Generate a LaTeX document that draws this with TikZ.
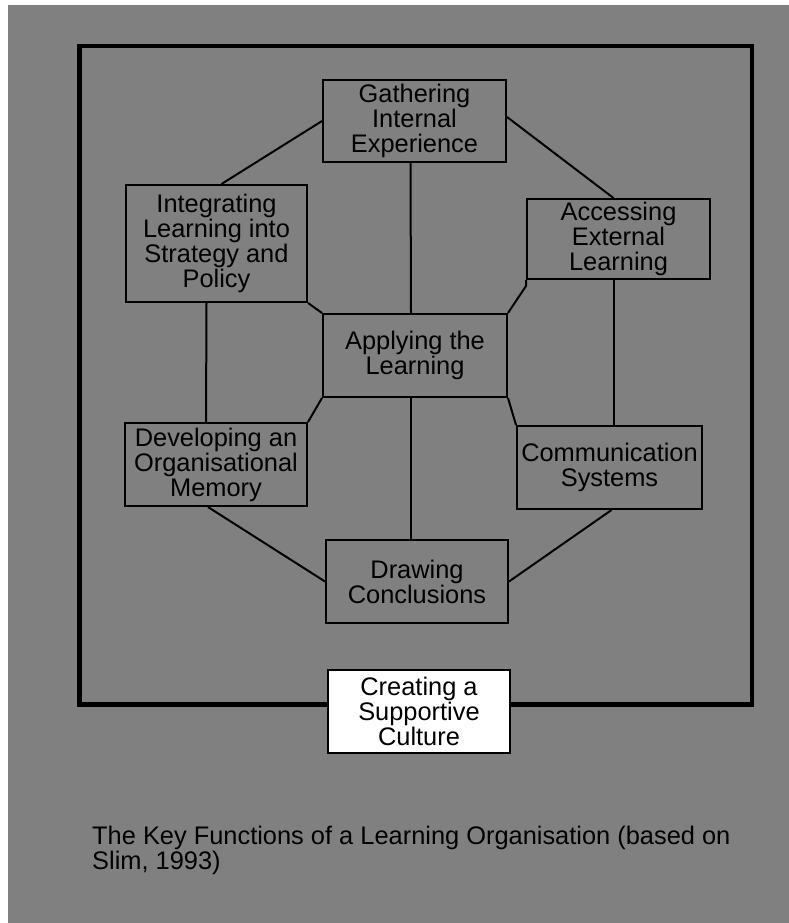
\documentclass[tikz,border=0pt]{standalone}
\usepackage{fontspec}
\setmainfont{Liberation Sans}
\begin{document}
\begin{tikzpicture}[x=1pt,y=-1pt,
  funcbox/.style={draw=black, line width=2pt, align=center, inner sep=0pt,
    font=\fontsize{25.4}{25}\selectfont},
  link/.style={draw=black, line width=2pt},
  frame/.style={draw=black, line width=4.5pt}]
  % canvas and page tint
  \useasboundingbox (0,0) rectangle (789,923);
  \fill[white] (0,0) rectangle (789,923);
  \fill[black!50] (8,5) rectangle (789,923);

  % outer frame
  \draw[frame] (79.5,46) rectangle (752,704.5);

  % the key functions
  \node[funcbox, minimum width=183, minimum height=82] (gather) at (414.5,121)
    {Gathering\\Internal\\Experience};
  \node[funcbox, minimum width=181, minimum height=117] (integ) at (216.5,243.5)
    {Integrating\\Learning into\\Strategy and\\Policy};
  \node[funcbox, minimum width=183, minimum height=80] (access) at (618.5,239)
    {Accessing\\External\\Learning};
  \node[funcbox, minimum width=184, minimum height=83] (apply) at (415,355.5)
    {Applying the\\Learning};
  \node[funcbox, minimum width=182, minimum height=83] (dev) at (216,464.5)
    {Developing an\\Organisational\\Memory};
  \node[funcbox, minimum width=185, minimum height=83] (comm) at (609.5,467.5)
    {Communication\\Systems};
  \node[funcbox, minimum width=182, minimum height=83] (drawc) at (417,581.5)
    {Drawing\\Conclusions};
  \node[funcbox, fill=white, minimum width=182, minimum height=83] (culture) at (419,711.5)
    {Creating a\\Supportive\\Culture};

  % links around the outer ring
  \draw[link] (gather.west) -- ([xshift=5]integ.north);
  \draw[link] ([yshift=4]gather.east) -- ([xshift=-5]access.north);
  \draw[link] ([xshift=-10]integ.south) -- ([xshift=-10]dev.north);
  \draw[link] ([xshift=-5]access.south) -- ([xshift=-5]access.south |- comm.north);
  \draw[link] ([xshift=-8]dev.south) -- (drawc.west);
  \draw[link] ([xshift=2]comm.south) -- (drawc.east);

  % links to the central function
  \draw[link] ([xshift=-4]gather.south) -- ([xshift=-4]apply.north);
  \draw[link] ([xshift=-4]apply.south) -- ([xshift=-6]drawc.north);
  \draw[link] (integ.south east) -- (apply.north west);
  \draw[link] (access.south west) -- ++(0,6) -- (apply.north east);
  \draw[link] (apply.south west) -- (dev.north east);
  \draw[link] (apply.south east) -- (comm.north west);

  % caption
  \node[anchor=north west, align=left, inner sep=0pt,
    font=\fontsize{25.4}{25}\selectfont] (caption) at (92,825.5)
    {The Key Functions of a Learning Organisation (based on\\Slim, 1993)};
\end{tikzpicture}
\end{document}
